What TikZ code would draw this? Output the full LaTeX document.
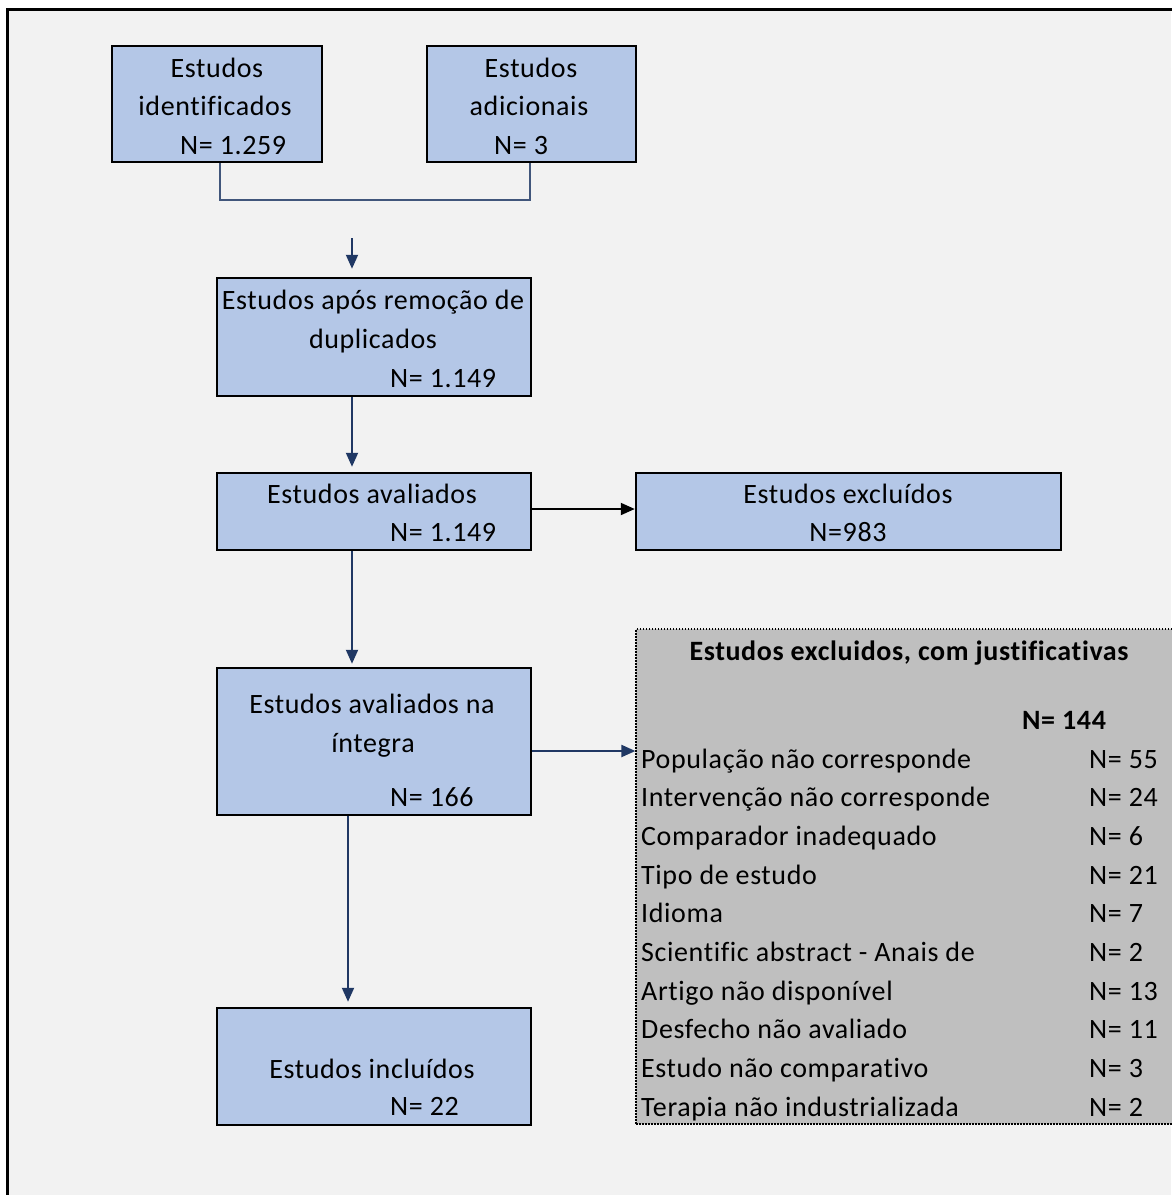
\documentclass[tikz,border=0pt]{standalone}
\usepackage{fontspec}
\setmainfont[LetterSpace=2.2,RawFeature={-liga;-clig;-dlig}]{Carlito}
\usetikzlibrary{arrows.meta}
\definecolor{boxfill}{HTML}{B4C7E7}
\definecolor{pagebg}{HTML}{F2F2F2}
\definecolor{navy}{HTML}{203864}
\definecolor{grayfill}{HTML}{BFBFBF}
\tikzset{
  flowbox/.style={draw=black, fill=boxfill, line width=2.5pt, inner sep=0pt, rectangle},
  graybox/.style={draw=black, fill=grayfill, line width=1.2pt, dash pattern=on 1.5pt off 1.5pt, inner sep=0pt, rectangle},
  txt/.style={anchor=base, inner sep=0pt, font=\fontsize{28}{34}\selectfont},
  txtw/.style={anchor=base west, inner sep=0pt, font=\fontsize{28}{34}\selectfont},
  btxt/.style={anchor=base, inner sep=0pt, font=\fontsize{28}{34}\selectfont\bfseries},
  btxtw/.style={anchor=base west, inner sep=0pt, font=\fontsize{28}{34}\selectfont\bfseries},
  arr/.style={draw=navy, line width=2pt, -{Triangle[length=14pt,width=12pt]}},
  blackarr/.style={draw=black, line width=2pt, -{Triangle[length=14pt,width=12pt]}},
  joinline/.style={draw=navy!85!white, line width=2pt},
}
\begin{document}
\begin{tikzpicture}[x=1pt,y=-1pt]
\useasboundingbox (0,0) rectangle (1171,1195);
\fill[white] (0,0) rectangle (1171,1195);
\fill[pagebg] (7,9) rectangle (1171,1195);
\draw[line width=3pt] (7,1200) -- (7,9) -- (1180,9);

% boxes
\node[flowbox, minimum width=210pt, minimum height=116pt] (b1) at (217,104) {};
\node[flowbox, minimum width=209pt, minimum height=116pt] (b2) at (531.5,104) {};
\node[flowbox, minimum width=314pt, minimum height=118pt] (b3) at (374,337) {};
\node[flowbox, minimum width=314pt, minimum height=77pt] (b4) at (374,511.5) {};
\node[flowbox, minimum width=425pt, minimum height=77pt] (b5) at (848.5,511.5) {};
\node[flowbox, minimum width=314pt, minimum height=147pt] (b6) at (374,741.5) {};
\node[flowbox, minimum width=314pt, minimum height=117pt] (b7) at (374,1066.5) {};
\node[graybox, minimum width=550pt, minimum height=495pt] (g) at (911,876.5) {};

% texts
\node[txt] (t1a) at (217,77) {Estudos};
\node[txt] (t1b) at (215,115) {identificados};
\node[txtw] (t1c) at (180,154) {N= 1.259};
\node[txt] (t2a) at (531,77) {Estudos};
\node[txt] (t2b) at (529,115) {adicionais};
\node[txtw] (t2c) at (494,154) {N= 3};
\node[txt] (t3a) at (373,309) {Estudos após remoção de};
\node[txt] (t3b) at (373,348) {duplicados};
\node[txtw] (t3c) at (390,387) {N= 1.149};
\node[txt] (t4a) at (372,503) {Estudos avaliados};
\node[txtw] (t4b) at (390,541) {N= 1.149};
\node[txt] (t5a) at (848,503) {Estudos excluídos};
\node[txt] (t5b) at (848,541) {N=983};
\node[txt] (t6a) at (372,713) {Estudos avaliados na};
\node[txt] (t6b) at (373,752) {íntegra};
\node[txtw] (t6c) at (390,806) {N= 166};
\node[txt] (t7a) at (372,1078) {Estudos incluídos};
\node[txtw] (t7b) at (390,1115) {N= 22};

\node[btxt] (gt) at (909,660) {Estudos excluidos, com justificativas};
\node[btxtw] (gn) at (1022,729) {N= 144};
\foreach \lbl/\num [count=\i from 0] in {%
  População não corresponde/55,
  Intervenção não corresponde/24,
  Comparador inadequado/6,
  Tipo de estudo/21,
  Idioma/7,
  Scientific abstract - Anais de/2,
  Artigo não disponível/13,
  Desfecho não avaliado/11,
  Estudo não comparativo/3,
  Terapia não industrializada/2}{
  \node[txtw] (gl\i) at (641,768+38.7*\i) {\lbl};
  \node[txtw] (gr\i) at (1089,768+38.7*\i) {N= \num};
}

% connectors
\coordinate (j1) at (220,200);
\coordinate (j2) at (530,200);
\draw[joinline] (b1.south -| j1) -- (j1) -- (j2) -- (b2.south -| j2);
\coordinate (a0) at (352,238);
\draw[arr, shorten >=8pt] (a0) -- (b3.north -| a0);
\draw[arr, shorten >=5pt] (b3.south -| a0) -- (b4.north -| a0);
\coordinate (c4) at ([yshift=2.5pt]b4.east);
\draw[blackarr] (c4) -- (b5.west |- c4);
\draw[arr, shorten >=3pt] (b4.south -| a0) -- (b6.north -| a0);
\coordinate (c6) at ([yshift=-9.5pt]b6.east);
\draw[arr] (c6) -- (g.west |- c6);
\coordinate (a1) at (348,815);
\draw[arr, shorten >=5pt] (b6.south -| a1) -- (b7.north -| a1);
\end{tikzpicture}
\end{document}
